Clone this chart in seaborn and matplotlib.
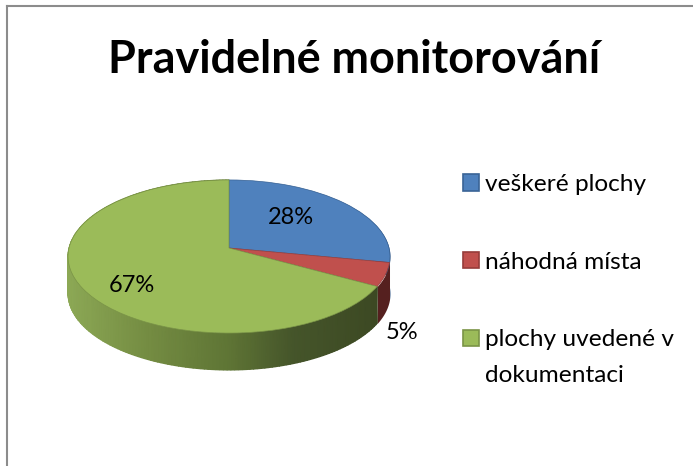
import numpy as np
import matplotlib
matplotlib.use('Agg')
import matplotlib.pyplot as plt
from matplotlib.colors import LinearSegmentedColormap, Normalize
from matplotlib.patches import Patch
from matplotlib.transforms import Transform
import seaborn as sns

title = 'Pravidelné monitorování'
labels = ['veškeré plochy', 'náhodná místa', 'plochy uvedené v']
label_wrap = 'dokumentaci'
values = [28, 5, 67]
colors = ['#4F81BD', '#C0504D', '#9BBB59']
edge_colors = ['#3A6496', '#963C3A', '#7A9446']
side_colors = ['#2F5585', '#55201F', '#5F7535']

sns.set_theme(style='white')
plt.rcParams['font.family'] = ['Lato', 'DejaVu Sans']
palette = sns.color_palette(colors)

# pie geometry in reference pixels
cx, cy = 229, 248
rx, ry = 160, 75.6
tilt = 0.111
depth = 37


def project(x, y):
    w = 1 + tilt * y
    return cx + rx * x / w, cy - ry * y / w


class Tilted(Transform):
    # maps the unit pie onto the tilted disc
    input_dims = 2
    output_dims = 2

    def transform_non_affine(self, values):
        px, py = project(values[:, 0], values[:, 1])
        return np.column_stack([px, py])


fig = plt.figure(figsize=(6.93, 4.66), dpi=100)
ax = fig.add_axes([7 / 693, 0, 686 / 693, 460 / 466])

wedges, _, autotexts = ax.pie(values, colors=palette, startangle=90, counterclock=False,
                              autopct='%d%%', textprops={'fontsize': 17, 'color': 'black'})
ax.set_aspect('auto')

# side wall, one strip per slice, the top disc is drawn over the hidden part
green_side = LinearSegmentedColormap.from_list('side', [(0, '#8CA855'), (0.25, '#748C42'), (0.5, '#5F7535'),
                                                        (0.7, '#45552A'), (1, '#3B4722')])
norm = Normalize(68, 390)
stops = np.cumsum([0] + values) / sum(values)
for i in range(len(values)):
    theta = np.radians(90 - 360 * np.linspace(stops[i], stops[i + 1], 200))
    px, py = project(np.cos(theta), np.sin(theta))
    X = np.vstack([px, px])
    Y = np.vstack([py, py + depth])
    if i == 2:
        ax.pcolormesh(X, Y, X, cmap=green_side, norm=norm, shading='gouraud', zorder=1)
    else:
        ax.fill_between(px, py, py + depth, color=side_colors[i], lw=0, zorder=1)

for w, e in zip(wedges, edge_colors):
    w.set_transform(Tilted() + ax.transData)
    w.set_edgecolor(e)
    w.set_linewidth(0.5)
    w.set_zorder(2)

for t, pos in zip(autotexts, [(291, 217), (402, 332), (132, 285)]):
    t.set_position(pos)
    t.set_zorder(3)

handles = [Patch(facecolor=c, edgecolor=e, linewidth=1.2) for c, e in zip(palette, edge_colors)]
ax.legend(handles, labels, loc='upper left', bbox_to_anchor=(463, 174), bbox_transform=ax.transData,
          frameon=False, fontsize=17.6, labelcolor='black', handlelength=0.66, handleheight=0.66,
          handletextpad=0.25, labelspacing=2.32, borderpad=0, borderaxespad=0)
ax.text(485, 375, label_wrap, fontsize=17.6, color='black', ha='left', va='center')

ax.text(354, 60, title, fontsize=32.4, fontweight='bold', color='black', ha='center', va='center')

ax.set_xlim(7, 693)
ax.set_ylim(466, 6)
ax.set_xticks([])
ax.set_yticks([])
ax.set_frame_on(True)
for side, sp in ax.spines.items():
    sp.set_visible(side in ('left', 'top'))
    sp.set_color('#8C8C8C')
    sp.set_linewidth(1.5)

fig.savefig('out.png', dpi=100)
